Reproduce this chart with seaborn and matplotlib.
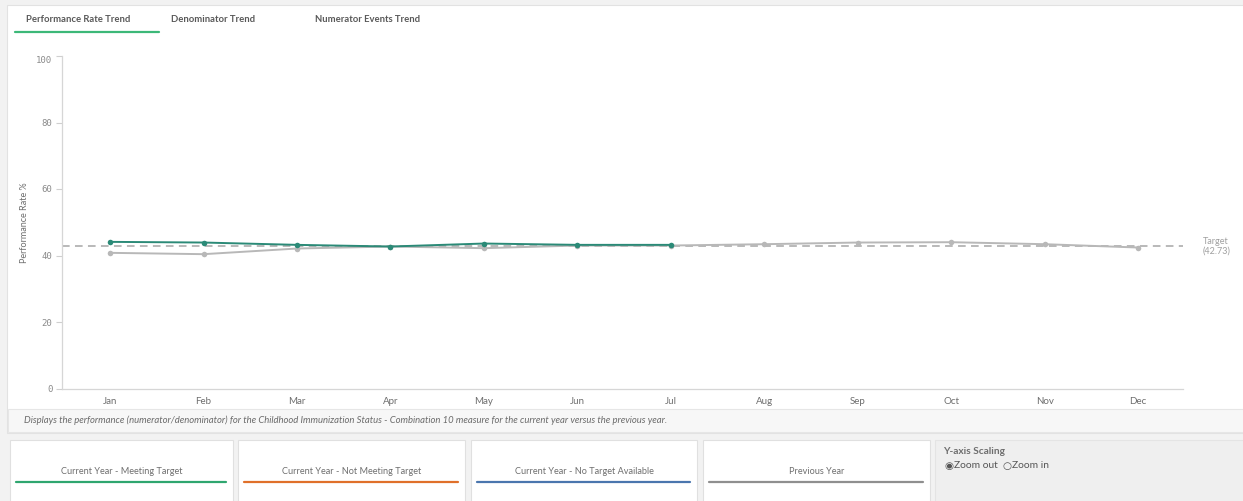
import matplotlib
matplotlib.use("Agg")
import matplotlib.pyplot as plt
from matplotlib.patches import Rectangle
import seaborn as sns
import pandas as pd

months = ["Jan", "Feb", "Mar", "Apr", "May", "Jun", "Jul", "Aug", "Sep", "Oct", "Nov", "Dec"]
current_year = [44.1, 43.9, 43.2, 42.7, 43.6, 43.2, 43.2]
previous_year = [40.8, 40.4, 42.1, 42.7, 42.2, 43.0, 43.0, 43.4, 43.9, 44.0, 43.4, 42.4]
target = 42.73
y_ticks = [0, 20, 40, 60, 80, 100]
tabs = ["Performance Rate Trend", "Denominator Trend", "Numerator Events Trend"]
legend_labels = ["Current Year - Meeting Target", "Current Year - Not Meeting Target",
                 "Current Year - No Target Available", "Previous Year"]
legend_colors = ["#2fa66f", "#e0702a", "#4a76ae", "#8f8f8f"]
caption = ("Displays the performance (numerator/denominator) for the Childhood Immunization "
           "Status - Combination 10 measure for the current year versus the previous year.")

sns.set_theme(style="white")
plt.rcParams["font.family"] = ["Lato", "DejaVu Sans"]

W, H = 1243, 501
fig = plt.figure(figsize=(W / 100, H / 100), dpi=100)
fig.patch.set_facecolor("#f2f2f2")


def fx(px):
    return px / W


def fy(py):
    return 1 - py / H


def box(x0, y0, x1, y1, fc, ec="none", lw=0.8):
    fig.patches.append(Rectangle((fx(x0), fy(y1)), fx(x1) - fx(x0), fy(y0) - fy(y1),
                                 transform=fig.transFigure, facecolor=fc, edgecolor=ec,
                                 linewidth=lw, zorder=-5))


# main chart panel
box(7, 5, 1250, 433, "white", "#e2e2e2")
# caption strip
box(8, 409, 1250, 432, "#f7f7f7", "#e6e6e6")
fig.text(fx(24), fy(420.5), caption, fontsize=6.8, style="italic", color="#6b6b6b",
         ha="left", va="center")

# tabs
tab_x = [78, 213, 368]
for tx, label in zip(tab_x, tabs):
    fig.text(fx(tx), fy(19.5), label, fontsize=6.8, fontweight="bold", color="#595959",
             ha="center", va="center")
fig.lines.append(plt.Line2D([fx(15), fx(159)], [fy(32), fy(32)], transform=fig.transFigure,
                            color="#3cb878", linewidth=1.6))

# legend cards
cards = [(10, 233), (238, 465), (471, 697), (703, 930)]
for (x0, x1), label, col in zip(cards, legend_labels, legend_colors):
    box(x0, 440, x1, 510, "white", "#e0e0e0")
    fig.text(fx((x0 + x1) / 2), fy(471.5), label, fontsize=6.6, color="#6e6e6e",
             ha="center", va="center")
    fig.lines.append(plt.Line2D([fx(x0 + 6), fx(x1 - 7)], [fy(482), fy(482)],
                                transform=fig.transFigure, color=col, linewidth=1.6))

# y-axis scaling panel
box(935, 440, 1250, 510, "#efefef", "#e4e4e4")
fig.text(fx(943), fy(452), "Y-axis Scaling", fontsize=7.3, fontweight="bold",
         color="#6e6e6e", ha="left", va="center")
fig.text(fx(944), fy(466.5), "\u25c9", fontsize=7.5, color="#555555",
         ha="left", va="center", family="DejaVu Sans")
fig.text(fx(954.5), fy(466), "Zoom out", fontsize=7.4, color="#555555", ha="left", va="center")
fig.text(fx(1002), fy(466.5), "\u25cb", fontsize=7.5, color="#555555",
         ha="left", va="center", family="DejaVu Sans")
fig.text(fx(1012), fy(466), "Zoom in", fontsize=7.4, color="#555555", ha="left", va="center")

# trend chart
ax = fig.add_axes([fx(62), fy(388.5), fx(1183) - fx(62), fy(56) - fy(388.5)])
ax.set_facecolor("none")

prev_df = pd.DataFrame({"idx": range(len(previous_year)), "value": previous_year})
cur_df = pd.DataFrame({"idx": range(len(current_year)), "value": current_year})

ax.axhline(target, color="#a6a6a6", linestyle=(0, (5, 3.5)), linewidth=1.1, zorder=1)
sns.lineplot(data=prev_df, x="idx", y="value", ax=ax, color="#b8b8b8", linewidth=1.4,
             marker="o", markersize=4, markeredgewidth=0, zorder=2)
sns.lineplot(data=cur_df, x="idx", y="value", ax=ax, color="#2b8a77", linewidth=1.4,
             marker="o", markersize=4, markeredgewidth=0, zorder=3)

ax.set_xlim(-0.515, 11.48)
ax.set_ylim(0, 100)
ax.set_xticks(range(len(months)))
ax.set_xticklabels(months)
ax.set_yticks(y_ticks)
ax.set_yticklabels([str(v) for v in y_ticks], family="DejaVu Sans Mono")
ax.get_yticklabels()[-1].set_va("top")
ax.tick_params(axis="y", length=4, width=0.8, color="#cfcfcf", labelsize=6.5,
               labelcolor="#8a8a8a", pad=3, left=True)
ax.tick_params(axis="x", length=0, labelsize=7, labelcolor="#6e6e6e", pad=6)
ax.set_xlabel("")
ax.set_ylabel("Performance Rate %", fontsize=6.5, color="#6e6e6e")
ax.yaxis.set_label_coords(-0.029, 0.5)
for side in ["top", "right"]:
    ax.spines[side].set_visible(False)
for side in ["left", "bottom"]:
    ax.spines[side].set_color("#d6d6d6")
    ax.spines[side].set_linewidth(0.9)
ax.grid(False)

ax.text(1.0295, target, "Target\n(42.73)", transform=ax.get_yaxis_transform(),
        fontsize=6.5, color="#a0a0a0", ha="center", va="center", linespacing=1.1)

fig.savefig("out.png", dpi=100, facecolor=fig.get_facecolor())
